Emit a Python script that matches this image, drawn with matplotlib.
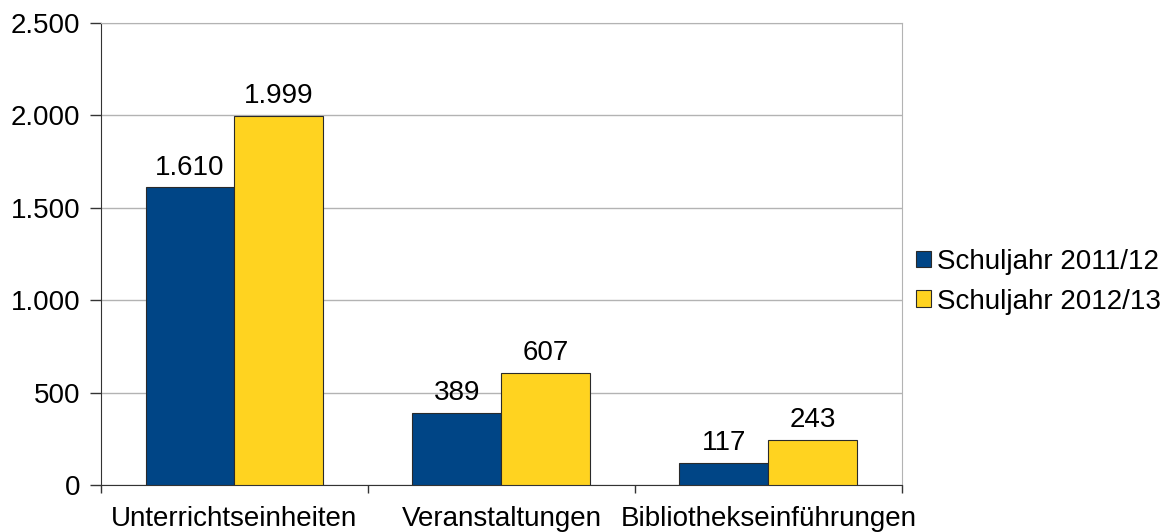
import numpy as np
import matplotlib.pyplot as plt
from matplotlib.ticker import FuncFormatter, FixedLocator

categories = ["Unterrichtseinheiten", "Veranstaltungen", "Bibliothekseinführungen"]
series_names = ["Schuljahr 2011/12", "Schuljahr 2012/13"]
values_2011 = [1610, 389, 117]
values_2012 = [1999, 607, 243]
colors = ["#004586", "#ffd320"]

plt.rcParams['font.family'] = ['Liberation Sans', 'DejaVu Sans']
fs = 20

fig = plt.figure(figsize=(11.73, 5.32), dpi=100)
ax = fig.add_axes([101 / 1173, 47 / 532, 801 / 1173, 462 / 532])

x = np.arange(len(categories))
w = 1 / 3
for off, vals, col, name in [(-w / 2, values_2011, colors[0], series_names[0]),
                             (w / 2, values_2012, colors[1], series_names[1])]:
    bars = ax.bar(x + off, vals, w, color=col, edgecolor="#2a2a2a", linewidth=0.8,
                  label=name, zorder=3)
    for b, v in zip(bars, vals):
        ax.annotate(f"{v:,}".replace(",", "."), (b.get_x() + b.get_width() / 2, v),
                    xytext=(0, 5), textcoords="offset points", ha="center", va="bottom",
                    fontsize=fs)

ax.set_xlim(-0.5, 2.5)
ax.set_ylim(0, 2500)
ax.set_yticks(np.arange(0, 2501, 500))
ax.yaxis.set_major_formatter(FuncFormatter(lambda v, p: f"{int(v):,}".replace(",", ".")))
ax.yaxis.grid(True, color="#b3b3b3", linewidth=1, zorder=0)

ax.set_xticks(x)
ax.set_xticklabels(categories)
ax.xaxis.set_minor_locator(FixedLocator([-0.5, 0.5, 1.5, 2.5]))
ax.tick_params(axis="x", which="major", length=0, pad=15, labelsize=fs)
ax.tick_params(axis="x", which="minor", length=6, width=1, color="#333333", direction="out")
ax.tick_params(axis="y", length=8, width=1, color="#333333", pad=7, labelsize=fs)

for s in ["top", "right"]:
    ax.spines[s].set_color("#b3b3b3")
for s in ["left", "bottom"]:
    ax.spines[s].set_color("#333333")

ax.legend(loc="center left", bbox_to_anchor=(1.0, 0.44), frameon=False, fontsize=fs,
          handlelength=0.55, handleheight=0.55, handletextpad=0.2, labelspacing=0.5,
          borderaxespad=0.1)

fig.savefig("out.png", dpi=100)
